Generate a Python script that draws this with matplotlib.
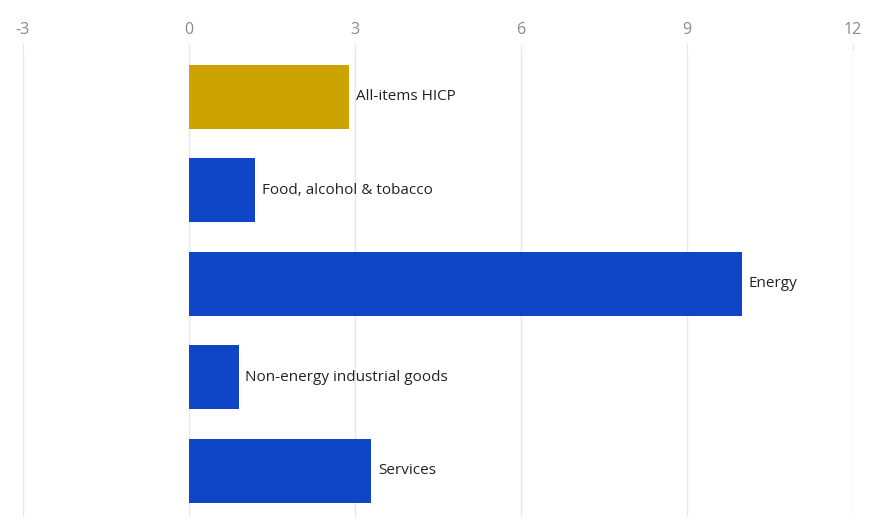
import matplotlib.pyplot as plt

# HICP components, annual rate (%)
categories = ["All-items HICP", "Food, alcohol & tobacco", "Energy",
              "Non-energy industrial goods", "Services"]
values = [2.9, 1.2, 10.0, 0.9, 3.3]
colors = ["#cca300", "#0f46c8", "#0f46c8", "#0f46c8", "#0f46c8"]
xticks = [-3, 0, 3, 6, 9, 12]

plt.rcParams['font.family'] = ['Open Sans', 'DejaVu Sans']

fig = plt.figure(figsize=(8.8, 5.23), dpi=100)
ax = fig.add_axes([0.026, 0.011, 0.943, 0.893])

y = list(range(len(categories)))
ax.barh(y, values, height=0.686, color=colors, zorder=2)

for yi, v, name in zip(y, values, categories):
    ax.text(v + 0.12, yi, name, va='center', ha='left', fontsize=11, color='#222222')

ax.set_xlim(-3, 12)
ax.set_ylim(len(categories) - 0.5, -0.5)
ax.set_xticks(xticks)
ax.set_xticklabels([str(t) for t in xticks])
ax.xaxis.tick_top()
ax.tick_params(axis='x', length=5, color='#e4e8f2', labelcolor='#8a8a8a',
               labelsize=11.5, pad=4)
ax.set_yticks([])
ax.grid(axis='x', color='#e4e8f2', linewidth=1, zorder=0)
for s in ax.spines.values():
    s.set_visible(False)

fig.savefig("out.png", dpi=100)
